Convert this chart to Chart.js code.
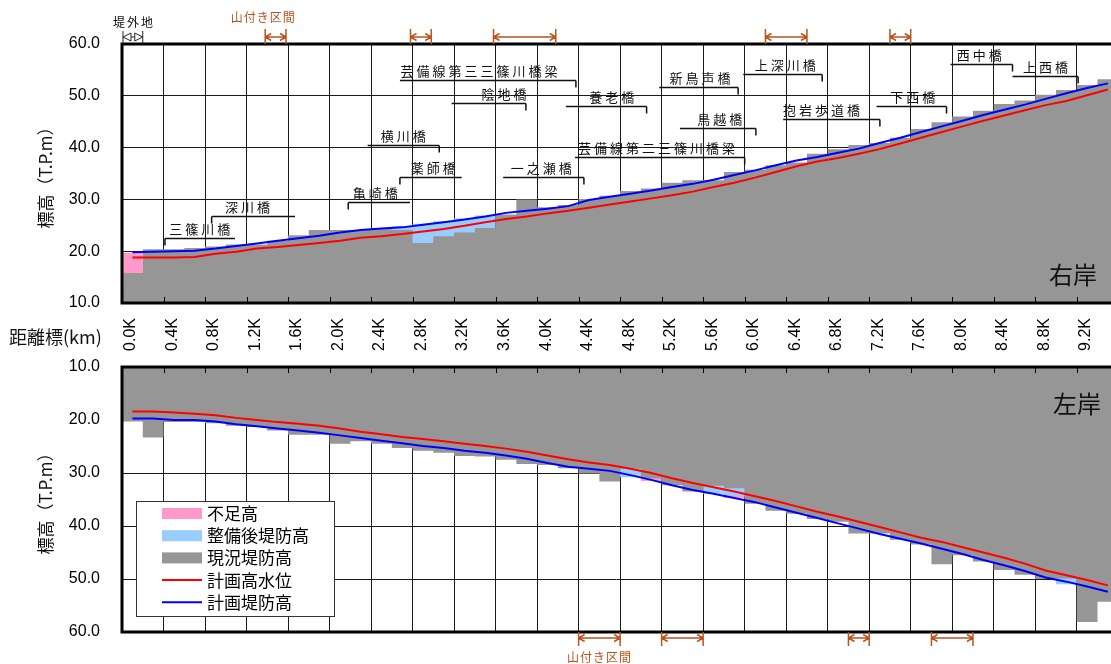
<!DOCTYPE html>
<html lang="ja">
<head>
<meta charset="utf-8">
<title>縦断図</title>
<script src="https://cdn.jsdelivr.net/npm/chart.js@4.4.1/dist/chart.umd.min.js"></script>
<style>
  html, body { margin: 0; padding: 0; background: #fff; }
  #wrap { position: relative; width: 1111px; height: 664px; overflow: hidden; }
  #wrap canvas { position: absolute; left: 0; }
  #rightBank { top: 0; }
  #leftBank { top: 345px; }
</style>
</head>
<body>
<div id="wrap">
  <canvas id="rightBank" width="1111" height="360"></canvas>
  <canvas id="leftBank" width="1111" height="319"></canvas>
</div>
<script>
// distance marks
const kmTicks = [0, 0.4, 0.8, 1.2, 1.6, 2.0, 2.4, 2.8, 3.2, 3.6, 4.0, 4.4, 4.8, 5.2, 5.6, 6.0, 6.4, 6.8, 7.2, 7.6, 8.0, 8.4, 8.8, 9.2];
const kmLabels = ["0.0K", "0.4K", "0.8K", "1.2K", "1.6K", "2.0K", "2.4K", "2.8K", "3.2K", "3.6K", "4.0K", "4.4K",
  "4.8K", "5.2K", "5.6K", "6.0K", "6.4K", "6.8K", "7.2K", "7.6K", "8.0K", "8.4K", "8.8K", "9.2K"];
const elevTicks = [10, 20, 30, 40, 50, 60];

// levee sections (start km, 0.2km long) and line sample points
const sectionKm = [0, 0.2, 0.4, 0.6, 0.8, 1.0, 1.2, 1.4, 1.6, 1.8, 2.0, 2.2, 2.4, 2.6, 2.8, 3.0, 3.2, 3.4, 3.6, 3.8,
  4.0, 4.2, 4.4, 4.6, 4.8, 5.0, 5.2, 5.4, 5.6, 5.8, 6.0, 6.2, 6.4, 6.6, 6.8, 7.0, 7.2, 7.4, 7.6, 7.8,
  8.0, 8.2, 8.4, 8.6, 8.8, 9.0, 9.2, 9.4];
const sectionEnd = 9.6;
const lineKm = [0.1, 0.3, 0.5, 0.7, 0.9, 1.1, 1.3, 1.5, 1.7, 1.9, 2.1, 2.3, 2.5, 2.7, 2.9, 3.1, 3.3, 3.5, 3.7, 3.9,
  4.1, 4.3, 4.5, 4.7, 4.9, 5.1, 5.3, 5.5, 5.7, 5.9, 6.1, 6.3, 6.5, 6.7, 6.9, 7.1, 7.3, 7.5, 7.7, 7.9,
  8.1, 8.3, 8.5, 8.7, 8.9, 9.1, 9.3, 9.5];

// right bank (右岸)
const rightLevee = [15.8, 20.4, 20.4, 20.6, 20.9, 21.3, 21.3, 22.0, 23.1, 24.1, 24.1, 24.1, 24.5, 24.1, 21.6, 22.9,
  23.6, 24.5, 27.1, 30.0, 28.5, 28.9, 30.1, 30.7, 31.6, 32.1, 33.2, 33.7, 33.7, 35.3, 35.7, 36.6,
  37.1, 38.8, 39.7, 40.5, 40.9, 41.9, 43.6, 44.9, 46.0, 47.1, 48.4, 49.1, 50.2, 51.1, 52.1, 53.2];
const rightImproved = [null, null, null, null, null, null, null, null, null, null, null, null, null, 24.8, 25.3, 25.8,
  26.3, 26.9, null, null, null, null, null, null, null, null, null, null, null, null, null, null,
  null, null, null, null, null, null, null, null, null, null, null, null, null, null, null, null];
const rightShortage = [19.65, null, null, null, null, null, null, null, null, null, null, null, null, null, null, null,
  null, null, null, null, null, null, null, null, null, null, null, null, null, null, null, null,
  null, null, null, null, null, null, null, null, null, null, null, null, null, null, null, null];
const rightHWL = [18.8, 18.8, 18.8, 18.9, 19.5, 19.9, 20.5, 20.8, 21.2, 21.6, 22.0, 22.6, 22.9, 23.3, 23.8, 24.3,
  24.9, 25.6, 26.2, 26.7, 27.3, 27.8, 28.4, 29.0, 29.6, 30.2, 30.8, 31.5, 32.4, 33.2, 34.2, 35.3,
  36.4, 37.3, 38.0, 38.8, 39.7, 40.8, 41.9, 43.0, 44.1, 45.2, 46.2, 47.2, 48.2, 49.0, 50.1, 51.2];
const rightPlanned = [19.8, 19.9, 20.0, 20.1, 20.5, 21.0, 21.5, 22.0, 22.5, 23.0, 23.6, 24.1, 24.4, 24.6, 25.1, 25.6,
  26.1, 26.7, 27.4, 27.8, 28.2, 28.7, 29.9, 30.5, 31.1, 31.7, 32.4, 33.0, 33.8, 34.7, 35.6, 36.6,
  37.5, 38.2, 39.0, 39.8, 40.9, 41.9, 43.0, 44.1, 45.2, 46.3, 47.3, 48.3, 49.4, 50.5, 51.5, 52.4];

// left bank (左岸)
const leftLevee = [20.3, 23.3, 20.4, 20.4, 20.6, 21.1, 21.3, 22.0, 22.8, 22.8, 24.5, 24.0, 24.5, 25.3, 25.8, 26.2,
  26.8, 26.9, 27.5, 28.3, 28.5, 29.1, 30.1, 31.6, 29.2, 31.0, 32.3, 33.5, 32.4, 32.9, 35.8, 37.1,
  37.7, 38.7, 39.2, 41.4, 41.4, 42.6, 43.5, 47.2, 45.5, 46.7, 48.3, 49.2, 50.0, 49.9, 58.1, 54.3];
const leftImproved = [null, null, null, null, null, null, null, null, null, null, null, null, null, null, null, null,
  null, null, null, null, null, null, null, null, 30.8, null, null, null, 33.9, 34.3, null, null,
  null, null, null, null, null, null, null, null, null, null, null, null, null, 51.0, null, null];
const leftShortage = [null, null, null, null, null, null, null, null, null, null, null, null, null, null, null, null,
  null, null, null, null, null, null, null, null, null, 31.5, null, null, null, 34.7, null, null,
  null, null, null, null, null, null, null, null, null, null, null, null, null, null, null, null];
const leftHWL = [18.4, 18.4, 18.6, 18.8, 19.1, 19.6, 20.0, 20.4, 20.7, 21.1, 21.6, 22.2, 22.7, 23.2, 23.6, 24.0,
  24.5, 24.9, 25.4, 26.0, 26.7, 27.4, 28.0, 28.5, 29.2, 30.0, 31.0, 31.9, 32.7, 33.5, 34.4, 35.3,
  36.3, 37.3, 38.2, 39.2, 40.2, 41.2, 42.2, 43.0, 44.0, 45.0, 46.0, 47.1, 48.4, 49.3, 50.2, 51.2];
const leftPlanned = [19.7, 19.7, 20.0, 20.0, 20.3, 20.8, 21.2, 21.6, 22.0, 22.4, 22.9, 23.4, 23.9, 24.4, 24.9, 25.3,
  25.8, 26.2, 26.7, 27.3, 28.1, 28.8, 29.2, 29.6, 30.4, 31.3, 32.3, 33.2, 33.9, 34.7, 35.5, 36.5,
  37.5, 38.5, 39.5, 40.5, 41.5, 42.4, 43.3, 44.3, 45.3, 46.4, 47.4, 48.5, 49.7, 50.5, 51.4, 52.4];

// bridges on the right bank profile
const bridgeNames = ["三篠川橋", "深川橋", "亀崎橋", "横川橋", "薬師橋", "芸備線第三三篠川橋梁", "陰地橋", "養老橋",
  "一之瀬橋", "芸備線第二三篠川橋梁", "新鳥声橋", "鳥越橋", "上深川橋", "抱岩歩道橋", "下西橋", "西中橋", "上西橋"];
const bridgeKm = [0.414, 0.864, 2.18, 3.057, 2.678, 4.374, 3.892, 5.055, 4.451, 6.0, 5.937, 6.108, 6.747, 7.303,
  7.945, 8.581, 9.213];
// leader: [from km, to km, elevation of leader, label centre km]
const bridgeLeaders = [
  [0.414, 1.089, 22.6, 0.75], [0.864, 1.667, 26.85, 1.21], [2.18, 2.775, 29.55, 2.44],
  [2.367, 3.057, 40.5, 2.71], [2.678, 3.273, 34.4, 3.0], [2.678, 4.374, 53.05, 3.44],
  [3.176, 3.892, 48.67, 3.68], [4.277, 5.055, 48.03, 4.72], [3.673, 4.451, 34.4, 4.04],
  [4.364, 6.0, 38.1, 5.15], [5.176, 5.937, 51.76, 5.57], [5.376, 6.108, 43.73, 5.76],
  [5.986, 6.747, 54.2, 6.39], [6.371, 7.303, 45.5, 6.74], [7.271, 7.945, 48.03, 7.62],
  [7.984, 8.581, 56.14, 8.26], [8.581, 9.213, 53.88, 8.9]];

// 山付き区間
const hillSpansRight = [[1.38, 1.58], [2.78, 2.98], [3.58, 4.18], [6.2, 6.6], [7.4, 7.6]];
const hillSpansLeft = [[4.4, 4.8], [5.2, 5.6], [7.0, 7.2], [7.8, 8.2]];
const outsideSpan = [0, 0.2]; // 堤外地

const legendOrder = ["不足高", "整備後堤防高", "現況堤防高", "計画高水位", "計画堤防高"];

const BROWN = "#b8541e";
const JP = '"Noto Sans CJK JP", sans-serif';

function stepPoints(values) {
  const pts = values.map((v, i) => ({ x: sectionKm[i], y: v ?? 10 }));
  pts.push({ x: sectionEnd, y: pts[pts.length - 1].y });
  return pts;
}

function linePoints(values) {
  return values.map((v, i) => ({ x: lineKm[i], y: v }));
}

function bankDatasets(levee, improved, shortage, hwl, planned) {
  const area = { stepped: true, borderWidth: 0, borderColor: "rgba(0,0,0,0)", pointRadius: 0, fill: { value: 10 } };
  return [
    { label: "計画高水位", data: linePoints(hwl), borderColor: "#ff0000", borderWidth: 2, pointRadius: 0, fill: false, order: 0 },
    { label: "計画堤防高", data: linePoints(planned), borderColor: "#0000ff", borderWidth: 2, pointRadius: 0, fill: false, order: 1 },
    { label: "現況堤防高", data: stepPoints(levee), backgroundColor: "#969696", order: 2, ...area },
    { label: "整備後堤防高", data: stepPoints(improved), backgroundColor: "#99ccff", order: 3, ...area },
    { label: "不足高", data: stepPoints(shortage), backgroundColor: "#ff99cc", order: 4, ...area },
  ];
}

function drawSpan(ctx, xa, xb, yMid, up, down) {
  ctx.beginPath();
  ctx.moveTo(xa, yMid - up); ctx.lineTo(xa, yMid + down);
  ctx.moveTo(xb, yMid - up); ctx.lineTo(xb, yMid + down);
  ctx.moveTo(xa, yMid); ctx.lineTo(xb, yMid);
  ctx.moveTo(xa + 6, yMid - 3.5); ctx.lineTo(xa, yMid); ctx.lineTo(xa + 6, yMid + 3.5);
  ctx.moveTo(xb - 6, yMid - 3.5); ctx.lineTo(xb, yMid); ctx.lineTo(xb - 6, yMid + 3.5);
  ctx.stroke();
}

const decor = {
  id: "decor",
  afterDatasetsDraw(chart, args, opts) {
    const { ctx, chartArea: a, scales: { x } } = chart;
    const right = opts.side === "right";
    ctx.save();
    ctx.strokeStyle = "#000";
    ctx.lineWidth = 1;
    const edge = right ? a.bottom : a.top;
    kmTicks.forEach((k) => {
      if (k === 0) return;
      const px = Math.round(x.getPixelForValue(k)) + 0.5;
      ctx.beginPath();
      ctx.moveTo(px, edge);
      ctx.lineTo(px, edge + (right ? -6 : 6));
      ctx.stroke();
    });
    // frame
    ctx.lineWidth = 3;
    ctx.beginPath();
    ctx.moveTo(a.right, a.top);
    ctx.lineTo(a.left, a.top);
    ctx.lineTo(a.left, a.bottom);
    ctx.lineTo(a.right, a.bottom);
    ctx.stroke();
    ctx.restore();
  },
  afterDraw(chart, args, opts) {
    const { ctx, chartArea: a, scales: { x, y } } = chart;
    ctx.save();
    if (opts.side === "right") {
      // bridge labels
      ctx.strokeStyle = "#111";
      ctx.fillStyle = "#111";
      ctx.lineWidth = 1.5;
      ctx.font = "13px " + JP;
      ctx.letterSpacing = "3px";
      ctx.textAlign = "center";
      ctx.textBaseline = "middle";
      bridgeNames.forEach((name, i) => {
        const [k0, k1, elev, tk] = bridgeLeaders[i];
        const yy = Math.round(y.getPixelForValue(elev)) + 0.5;
        const xd = x.getPixelForValue(bridgeKm[i]);
        ctx.beginPath();
        ctx.moveTo(x.getPixelForValue(k0), yy);
        ctx.lineTo(x.getPixelForValue(k1), yy);
        ctx.moveTo(xd, yy);
        ctx.lineTo(xd, yy + 7);
        ctx.stroke();
        ctx.fillText(name, x.getPixelForValue(tk) + 1.5, yy - 9);
      });

      // 山付き区間 (top)
      ctx.strokeStyle = BROWN;
      ctx.fillStyle = BROWN;
      ctx.lineWidth = 1.5;
      hillSpansRight.forEach(([k0, k1]) => drawSpan(ctx, x.getPixelForValue(k0), x.getPixelForValue(k1), 37, 8, 7));
      ctx.font = "12px " + JP;
      ctx.letterSpacing = "1px";
      ctx.fillText("山付き区間", x.getPixelForValue(1.36), 17);

      // 堤外地
      ctx.strokeStyle = "#222";
      ctx.fillStyle = "#111";
      ctx.lineWidth = 1;
      const xa = x.getPixelForValue(outsideSpan[0]) + 1;
      const xb = x.getPixelForValue(outsideSpan[1]);
      ctx.beginPath();
      ctx.moveTo(xa, 31); ctx.lineTo(xa, 44);
      ctx.moveTo(xb, 31); ctx.lineTo(xb, 44);
      ctx.moveTo(xa, 37); ctx.lineTo(xa + 8, 33); ctx.lineTo(xa + 8, 41); ctx.closePath();
      ctx.moveTo(xb, 37); ctx.lineTo(xb - 8, 33); ctx.lineTo(xb - 8, 41); ctx.closePath();
      ctx.moveTo(xa + 8, 37); ctx.lineTo(xb - 8, 37);
      ctx.stroke();
      ctx.letterSpacing = "2px";
      ctx.fillText("堤外地", (xa + xb) / 2 + 1, 22);

      // bank name
      ctx.letterSpacing = "0px";
      ctx.font = "24px " + JP;
      ctx.textAlign = "right";
      ctx.fillText("右岸", a.right - 14, a.bottom - 28);

      // distance axis name
      ctx.font = "18px " + JP;
      ctx.textAlign = "left";
      ctx.fillText("距離標(km)", 9, 337);
    } else {
      // legend
      const bx = 136.5, by = a.top + 134.5, bw = 198, bh = 115;
      ctx.fillStyle = "#fff";
      ctx.fillRect(bx, by, bw, bh);
      ctx.strokeStyle = "#333";
      ctx.lineWidth = 1;
      ctx.strokeRect(bx, by, bw, bh);
      ctx.font = "17px " + JP;
      ctx.textAlign = "left";
      ctx.textBaseline = "middle";
      legendOrder.forEach((label, i) => {
        const ds = chart.data.datasets.find((d) => d.label === label);
        const cy = by + 12 + i * 22.2;
        if (ds.fill) {
          ctx.fillStyle = ds.backgroundColor;
          ctx.fillRect(162, cy - 5.5, 40, 11);
        } else {
          ctx.strokeStyle = ds.borderColor;
          ctx.lineWidth = 2;
          ctx.beginPath();
          ctx.moveTo(162, cy);
          ctx.lineTo(202, cy);
          ctx.stroke();
        }
        ctx.fillStyle = "#000";
        ctx.fillText(label, 207, cy);
      });

      // bank name
      ctx.fillStyle = "#111";
      ctx.font = "24px " + JP;
      ctx.textAlign = "right";
      ctx.fillText("左岸", a.right - 10, a.top + 37);

      // 山付き区間 (bottom)
      ctx.strokeStyle = BROWN;
      ctx.fillStyle = BROWN;
      ctx.lineWidth = 1.5;
      const ym = a.bottom + 6;
      hillSpansLeft.forEach(([k0, k1]) => drawSpan(ctx, x.getPixelForValue(k0), x.getPixelForValue(k1), ym, 6, 8));
      ctx.font = "12px " + JP;
      ctx.letterSpacing = "1px";
      ctx.textAlign = "center";
      ctx.fillText("山付き区間", x.getPixelForValue(4.6), a.bottom + 25);
    }
    ctx.restore();
  },
};

function makeChart(id, side, datasets) {
  const top = side === "right";
  return new Chart(document.getElementById(id), {
    type: "line",
    data: { datasets },
    plugins: [decor],
    options: {
      responsive: false,
      animation: false,
      events: [],
      devicePixelRatio: 1,
      layout: { padding: { top: top ? 44 : 22, left: 0, right: 0, bottom: 0 } },
      plugins: {
        legend: { display: false },
        tooltip: { enabled: false },
        decor: { side },
      },
      scales: {
        x: {
          type: "linear",
          min: 0,
          max: 9.53,
          afterBuildTicks: (s) => { s.ticks = kmTicks.map((v) => ({ value: v })); },
          afterFit: (s) => { s.height = top ? 57 : 32; s.paddingLeft = 0; s.paddingRight = 0; },
          grid: { color: "#1a1a1a", lineWidth: 1, drawTicks: false },
          border: { display: false },
          ticks: {
            display: top,
            autoSkip: false,
            minRotation: 90,
            maxRotation: 90,
            padding: 15,
            labelOffset: 9,
            color: "#000",
            font: { family: "'Liberation Sans', Arial, sans-serif", size: 16 },
            callback: (v, i) => kmLabels[i],
          },
        },
        y: {
          min: 10,
          max: 60,
          reverse: !top,
          afterBuildTicks: (s) => { s.ticks = elevTicks.map((v) => ({ value: v })); },
          afterFit: (s) => { s.width = 122; s.paddingTop = 0; s.paddingBottom = 0; },
          grid: { color: "#1a1a1a", lineWidth: 1, drawTicks: false },
          border: { display: false },
          ticks: {
            padding: 22,
            color: "#000",
            font: { family: "'Liberation Sans', Arial, sans-serif", size: 16 },
            callback: (v) => v.toFixed(1),
          },
          title: {
            display: true,
            text: "標高（T.P.m）",
            color: "#111",
            padding: { top: 35, bottom: 0 },
            font: { family: "'Noto Sans CJK JP', sans-serif", size: 17 },
          },
        },
      },
    },
  });
}

makeChart("rightBank", "right", bankDatasets(rightLevee, rightImproved, rightShortage, rightHWL, rightPlanned));
makeChart("leftBank", "left", bankDatasets(leftLevee, leftImproved, leftShortage, leftHWL, leftPlanned));
</script>
</body>
</html>
